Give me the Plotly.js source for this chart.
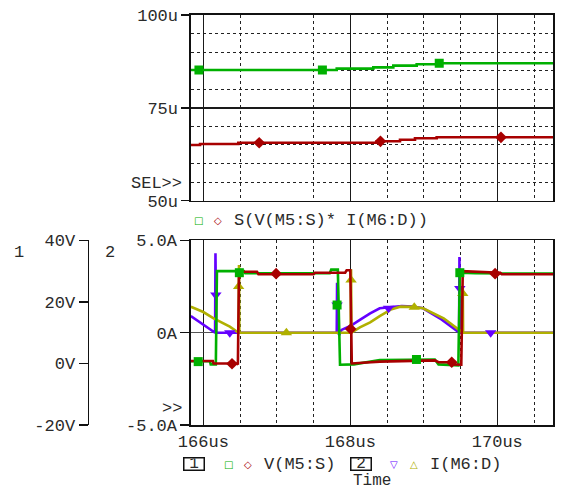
<!DOCTYPE html>
<html>
<head>
<meta charset="utf-8">
<script src="https://cdn.plot.ly/plotly-3.0.1.min.js"></script>
<style>html,body{margin:0;padding:0;background:#fff;}#chart{width:563px;height:491px;}</style>
</head>
<body>
<div id="chart"></div>
<script>
// ---------- DATA ----------
// Top plot: S(V(M5:S)*I(M6:D)) in micro-units (u)
var powGreenT = [165.83, 167.815, 168.313, 168.585, 168.903, 169.175, 170.76];
var powGreenV = [85.2, 85.55, 85.9, 86.36, 86.72, 87.0, 87.0];
var powRedT   = [165.83, 165.955, 166.476, 168.36, 168.676, 168.88, 169.175, 170.76];
var powRedV   = [65.0, 65.27, 65.6, 66.0, 66.4, 66.8, 67.07, 67.07];
var powGreenMkT = [165.94, 167.62, 169.21];
var powGreenMkV = [85.2, 85.2, 87.0];
var powRedMkT   = [166.76, 168.41, 170.05];
var powRedMkV   = [65.6, 66.0, 67.07];

// Bottom plot: V(M5:S) (volts, axis 1)
var vGreenT = [165.83, 166.09, 166.10, 166.17, 166.185, 166.55, 166.57, 167.72, 167.74, 167.83, 167.86, 168.05, 168.4, 169.15, 169.2, 169.47, 169.49, 169.7, 170.76];
var vGreenV = [0.7, 0.7, -0.3, -0.3, 30.0, 30.0, 29.3, 29.3, 30.5, 30.5, -0.4, -0.3, 1.1, 1.3, -0.3, -0.6, 29.5, 29.3, 29.2];
var vRedT = [165.83, 166.13, 166.14, 166.45, 166.47, 166.485, 166.73, 166.75, 167.5, 167.52, 167.93, 167.95, 168.0, 168.02, 168.4, 169.15, 169.2, 169.37, 169.4, 169.51, 169.53, 170.04, 170.06, 170.76];
var vRedV = [0.8, 0.8, 0.0, 0.0, -0.3, 29.8, 29.8, 29.0, 29.0, 29.5, 29.5, 30.3, 30.3, 0.0, 0.6, 1.0, 0.4, 0.4, -0.3, -0.4, 30.0, 29.5, 29.0, 29.0];
var vGreenMkT = [165.93, 166.49, 167.82, 168.90, 169.49];
var vGreenMkV = [0.6, 29.5, 19.0, 1.3, 29.5];
var vRedMkT = [166.39, 166.99, 168.005, 169.38, 169.97];
var vRedMkV = [-0.1, 29.2, 11.2, 0.4, 29.2];

// Bottom plot: I(M6:D) (amps, axis 2)
var iPurpleT = [165.83, 166.0, 166.16, 166.165, 166.175, 167.815, 167.82, 167.83, 167.85, 167.88, 168.0, 168.13, 168.27, 168.4, 168.52, 168.7, 168.85, 168.99, 169.24, 169.48, 169.485, 169.49, 170.76];
var iPurpleV = [0.9, 0.46, 0.0, 4.3, 0.0, 0.0, 2.7, 0.0, -0.1, 0.15, 0.36, 0.69, 1.05, 1.32, 1.38, 1.45, 1.42, 1.32, 0.72, 0.02, 4.1, 0.0, 0.0];
var iYellowT = [165.83, 166.0, 166.14, 166.36, 166.48, 166.485, 166.49, 168.005, 168.01, 168.015, 168.13, 168.27, 168.4, 168.55, 168.68, 168.85, 168.99, 169.27, 169.52, 169.53, 169.535, 170.76];
var iYellowV = [1.41, 1.12, 0.78, 0.33, 0.0, 3.67, 0.0, 0.0, 3.43, 0.0, 0.29, 0.56, 0.9, 1.25, 1.41, 1.40, 1.32, 0.78, 0.03, 2.5, 0.0, 0.0];
var iPurpleMkT = [166.17, 166.36, 167.82, 168.52, 169.49, 169.91];
var iPurpleMkV = [2.04, 0.0, 1.5, 1.32, 2.4, 0.0];
var iYellowMkT = [166.48, 167.13, 168.01, 168.87, 169.53];
var iYellowMkV = [2.5, 0.0, 2.85, 1.38, 2.13];

// Axis ticks
var timeTicks = [166, 168, 170];
var timeLabels = ['166us', '168us', '170us'];
var topMinorT = [166.5, 167.5, 168.5, 169, 169.5, 170.5];
var botMinorT = [166.5, 167, 167.5, 168.5, 169, 169.5, 170.5];
var powTicks = [50, 75, 100];
var powLabels = ['50u', '75u', '100u'];
var powMinor = [55, 60, 65, 70, 80, 85, 90, 95];
var ampTicks = [-5, 0, 5];
var ampLabels = ['-5.0A', '0A', '5.0A'];
var voltTicks = [-20, 0, 20, 40];
var voltLabels = ['-20V', '0V', '20V', '40V'];

// ---------- STYLE ----------
var GREEN = '#00b000', RED = '#a80000', PURPLE = '#6400ff', YELLOW = '#b0b000';
var FONT = 'Liberation Mono, Courier New, monospace';
var FS = 17;
var TXT = '#2a2a2a';
var W = 563, H = 491;
function px(x) { return x / W; }
function py(y) { return 1 - y / H; }

var LW = 2.6;
function line(x, y, color, xa, ya, shape) {
  return {x: x, y: y, type: 'scatter', mode: 'lines', xaxis: xa, yaxis: ya,
          line: {color: color, width: LW, shape: shape || 'linear'}, hoverinfo: 'skip', showlegend: false};
}
function marks(x, y, color, sym, xa, ya, size) {
  return {x: x, y: y, type: 'scatter', mode: 'markers', xaxis: xa, yaxis: ya,
          marker: {color: color, symbol: sym, size: size || 9, line: {width: 0}}, hoverinfo: 'skip', showlegend: false};
}

var traces = [
  line(powGreenT, powGreenV, GREEN, 'x', 'y', 'hv'),
  line(powRedT, powRedV, RED, 'x', 'y', 'hv'),
  marks(powGreenMkT, powGreenMkV, GREEN, 'square', 'x', 'y'),
  marks(powRedMkT, powRedMkV, RED, 'diamond', 'x', 'y'),

  line(vGreenT, vGreenV, GREEN, 'x2', 'y3'),
  line(vRedT, vRedV, RED, 'x2', 'y3'),
  line(iPurpleT, iPurpleV, PURPLE, 'x2', 'y2'),
  line(iYellowT, iYellowV, YELLOW, 'x2', 'y2'),
  marks(vGreenMkT, vGreenMkV, GREEN, 'square', 'x2', 'y3'),
  marks(vRedMkT, vRedMkV, RED, 'diamond', 'x2', 'y3'),
  marks(iPurpleMkT, iPurpleMkV, PURPLE, 'triangle-down', 'x2', 'y2', 10),
  marks(iYellowMkT, iYellowMkV, YELLOW, 'triangle-up', 'x2', 'y2', 10)
];

var xDom = [px(191), px(553)];
var xRange = [165.832, 170.758];
var tickFont = {family: FONT, size: FS, color: TXT};

function xAxis(anchor, minorVals, showLabels) {
  return {
    domain: xDom, range: xRange, anchor: anchor, fixedrange: true,
    tickmode: 'array', tickvals: timeTicks, ticktext: timeLabels,
    showticklabels: showLabels, ticks: '', tickfont: tickFont,
    showgrid: true, gridcolor: '#1a1a1a', gridwidth: 1.5, zeroline: false,
    showline: true, mirror: true, linecolor: '#111', linewidth: 1.6,
    minor: {tickmode: 'array', tickvals: minorVals, showgrid: true, gridcolor: '#222', gridwidth: 1, griddash: 'dot', ticks: ''},
    automargin: false
  };
}

var layout = {
  width: W, height: H,
  margin: {l: 0, r: 0, t: 0, b: 0},
  paper_bgcolor: '#fff', plot_bgcolor: '#fff',
  showlegend: false,
  font: {family: FONT, size: FS, color: TXT},
  xaxis: xAxis('y', topMinorT, false),
  xaxis2: xAxis('y2', botMinorT, true),
  yaxis: {
    domain: [py(200.7), py(15)], range: [50, 100], anchor: 'x', fixedrange: true,
    tickmode: 'array', tickvals: powTicks, ticktext: powLabels, tickfont: tickFont,
    ticks: 'outside', ticklen: 8, tickwidth: 1.5, tickcolor: '#111',
    showgrid: true, gridcolor: '#1a1a1a', gridwidth: 1.5, zeroline: false,
    showline: true, mirror: true, linecolor: '#111', linewidth: 1.6,
    minor: {tickmode: 'array', tickvals: powMinor, showgrid: true, gridcolor: '#222', gridwidth: 1, griddash: 'dot', ticks: ''},
    automargin: false
  },
  yaxis2: {
    domain: [py(425), py(240.4)], range: [-5, 5], anchor: 'x2', fixedrange: true,
    tickmode: 'array', tickvals: ampTicks, ticktext: ampLabels, tickfont: tickFont,
    ticks: 'outside', ticklen: 9, tickwidth: 1.5, tickcolor: '#111',
    showgrid: true, gridcolor: '#555', gridwidth: 1.5, zeroline: false,
    showline: true, mirror: true, linecolor: '#111', linewidth: 1.6,
    automargin: false
  },
  yaxis3: {
    overlaying: 'y2', anchor: 'free', position: px(87.5), side: 'left', range: [-20, 40], fixedrange: true,
    tickmode: 'array', tickvals: voltTicks, ticktext: voltLabels, tickfont: tickFont,
    ticks: 'outside', ticklen: 9, tickwidth: 1.5, tickcolor: '#111',
    showgrid: false, zeroline: false,
    showline: true, linecolor: '#111', linewidth: 1.6,
    automargin: false
  },
  annotations: []
};

function txt(text, x, y, xanchor, opts) {
  var a = {text: text, x: px(x), y: py(y), xref: 'paper', yref: 'paper', xanchor: xanchor || 'center', yanchor: 'middle',
           showarrow: false, font: {family: FONT, size: FS, color: TXT}};
  if (opts) for (var k in opts) a[k] = opts[k];
  return a;
}
var SYMF = 'DejaVu Sans';
layout.annotations.push(
  txt('1', 19, 253, 'center'),
  txt('2', 110, 253, 'center'),
  txt('SEL&gt;&gt;', 184, 183, 'right'),
  txt('&gt;&gt;', 184, 408, 'right'),
  // top legend
  txt('□', 198.5, 221, 'center', {font: {family: SYMF, size: 10, color: GREEN}}),
  txt('◇', 217.5, 221, 'center', {font: {family: SYMF, size: 10, color: RED}}),
  txt('S(V(M5:S)* I(M6:D))', 232, 220.5, 'left'),
  // bottom legend
  txt('1', 193.5, 464, 'center', {bordercolor: '#111', borderwidth: 1.5, borderpad: 0, width: 19, height: 11, font: {family: FONT, size: 16, color: TXT}}),
  txt('□', 228, 464.5, 'center', {font: {family: SYMF, size: 10, color: GREEN}}),
  txt('◇', 248, 464.5, 'center', {font: {family: SYMF, size: 10, color: RED}}),
  txt('V(M5:S)', 262, 464, 'left'),
  txt('2', 360.5, 464, 'center', {bordercolor: '#111', borderwidth: 1.5, borderpad: 0, width: 19, height: 11, font: {family: FONT, size: 16, color: TXT}}),
  txt('▽', 394, 464.5, 'center', {font: {family: SYMF, size: 10, color: PURPLE}}),
  txt('△', 414, 464.5, 'center', {font: {family: SYMF, size: 10, color: YELLOW}}),
  txt('I(M6:D)', 428, 464, 'left'),
  txt('Time', 372, 481, 'center', {borderpad: 0, font: {family: FONT, size: 16, color: TXT}})
);

Plotly.newPlot('chart', traces, layout, {staticPlot: true, displayModeBar: false});
</script>
</body>
</html>
